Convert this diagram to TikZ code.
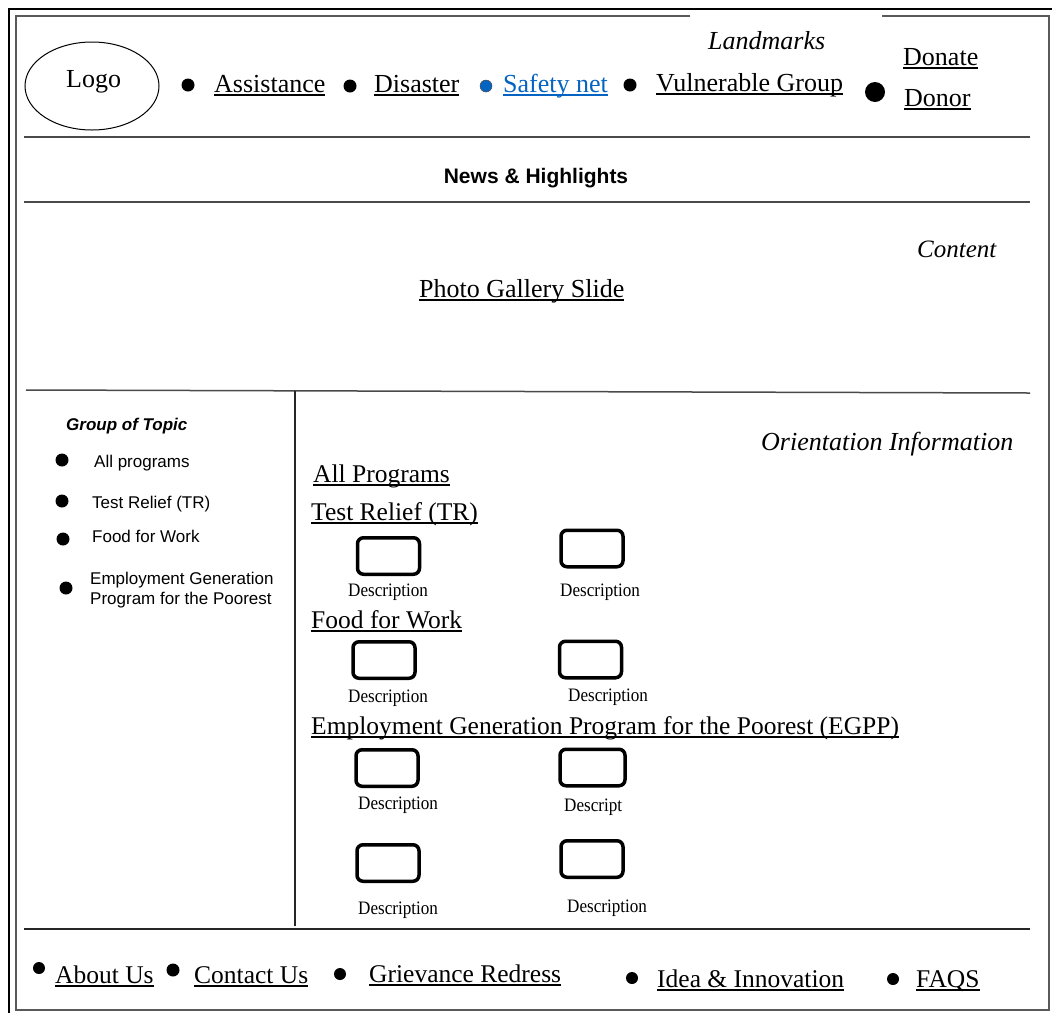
\documentclass[tikz,border=0pt]{standalone}
\usepackage{fontspec}
\setmainfont{Liberation Serif}
\setsansfont{Liberation Sans}
\usetikzlibrary{shapes.geometric}
\definecolor{linkblue}{HTML}{0563C1}
\definecolor{framegrey}{HTML}{5A5A5A}
\definecolor{rulegrey}{HTML}{4A4A4A}
\newsavebox\linkbox
% underlined link text: rule just below the baseline, in the current colour
\newcommand\linktext[1]{\sbox\linkbox{#1}\rlap{\rule[-3.5pt]{\wd\linkbox}{1.3pt}}\usebox\linkbox}
\tikzset{
  navlink/.style={anchor=base west, inner sep=0pt, font=\fontsize{26}{30}\selectfont},
  headlink/.style={anchor=base west, inner sep=0pt, font=\fontsize{25.5}{30}\selectfont},
  tag/.style={anchor=base west, inner sep=0pt, font=\itshape\fontsize{26}{30}\selectfont},
  sidetext/.style={anchor=base west, inner sep=0pt, font=\sffamily\fontsize{17}{20}\selectfont},
  desc/.style={anchor=base west, inner sep=0pt, font=\fontsize{19}{22}\selectfont, xscale=0.9},
  dot/.style={circle, fill=black, inner sep=0pt, minimum size=13pt},
  descbox/.style={draw=black, line width=3.5pt, rounded corners=6pt, inner sep=0pt,
                  minimum width=62pt, minimum height=36.5pt},
  sectionrule/.style={draw=rulegrey, line width=1.5pt},
}
\begin{document}
\begin{tikzpicture}[x=1pt, y=-1pt]
\useasboundingbox (0,0) rectangle (1052,1013);
\fill[white] (0,0) rectangle (1052,1013);

% page frames
\draw[line width=2pt] (9,1013) -- (9,9) -- (1052,9);
\draw[draw=framegrey, line width=1.6pt] (690,16) -- (16,16) -- (16,1010) -- (1049,1010) -- (1049,16) -- (882,16);

% header: logo and navigation
\node[draw, ellipse, line width=1pt, minimum width=134pt, minimum height=88pt] (logo) at (92,86) {};
\node[navlink] (logotext) at (66,87) {Logo};
\node[dot] (d1) at (188,85) {};
\node[navlink] (assist) at (214,92) {\linktext{Assistance}};
\node[dot] (d2) at (350,86) {};
\node[navlink] (disaster) at (374,92) {\linktext{Disaster}};
\node[dot, fill=linkblue, draw=black!70, line width=0.5pt, minimum size=12pt] (d3) at (486,86) {};
\node[navlink, text=linkblue] (safety) at (503,92) {\linktext{Safety net}};
\node[dot] (d4) at (630,85) {};
\node[navlink] (vulnerable) at (656,91) {\linktext{Vulnerable Group}};
\node[tag] (landmarks) at (708,49) {Landmarks};
\node[dot, minimum size=20pt] (d5) at (875,92) {};
\node[navlink] (donate) at (903,65) {\linktext{Donate}};
\node[navlink] (donor) at (904,106) {\linktext{Donor}};

% news strip and slide area
\path[sectionrule] (24,137) -- (1030,137);
\node[anchor=base, inner sep=0pt, font=\sffamily\bfseries\fontsize{21}{24}\selectfont] (news) at (536,183) {News \& Highlights};
\path[sectionrule] (24,202) -- (1030,202);
\node[tag, font=\itshape\fontsize{25}{30}\selectfont] (content) at (917,257) {Content};
\node[navlink] (gallery) at (419,297) {\linktext{Photo Gallery Slide}};
\path[sectionrule] (26,390) -- (1030,393);

% topic column
\path[sectionrule, draw=black!85, line width=1.2pt] (295,391) -- (295,926);
\node[sidetext, font=\sffamily\bfseries\itshape\fontsize{17}{20}\selectfont] (topics) at (66,430) {Group of Topic};
\node[dot] (s1) at (62,460) {};
\node[sidetext] (allprog) at (94,467) {All programs};
\node[dot] (s2) at (62,501) {};
\node[sidetext] (testrelief) at (92,508) {Test Relief (TR)};
\node[dot] (s3) at (63,539) {};
\node[sidetext] (food) at (92,542) {Food for Work};
\node[dot] (s4) at (66,588) {};
\node[sidetext] (egpp1) at (90,584) {Employment Generation};
\node[sidetext] (egpp2) at (90,604) {Program for the Poorest};

% orientation information
\node[tag] (orient) at (761,450) {Orientation Information};
\node[headlink] (hall) at (313,482) {\linktext{All Programs}};
\node[headlink] (htr) at (311,520) {\linktext{Test Relief (TR)}};
\node[descbox] (b1) at (388.5,556) {};
\node[descbox] (b2) at (592,548.5) {};
\node[desc] (t1) at (348,596) {Description};
\node[desc] (t2) at (560,596) {Description};
\node[headlink] (hfood) at (311,628) {\linktext{Food for Work}};
\node[descbox] (b3) at (384,660) {};
\node[descbox] (b4) at (590.5,659.5) {};
\node[desc] (t3) at (348,702) {Description};
\node[desc] (t4) at (568,701) {Description};
\node[headlink] (hegpp) at (311,734) {\linktext{Employment Generation Program for the Poorest (EGPP)}};
\node[descbox] (b5) at (387,768) {};
\node[descbox, minimum width=65pt] (b6) at (592.5,767.5) {};
\node[desc] (t5) at (358,809) {Description};
\node[desc] (t6) at (564,811) {Descript};
\node[descbox] (b7) at (388,863) {};
\node[descbox] (b8) at (592,859) {};
\node[desc] (t7) at (358,914) {Description};
\node[desc] (t8) at (567,912) {Description};

% footer links
\path[sectionrule, draw=black!85] (24,929) -- (1030,929);
\node[dot, minimum size=12pt] (f1) at (39,968) {};
\node[headlink] (about) at (55,983) {\linktext{About Us}};
\node[dot] (f2) at (173,970) {};
\node[headlink] (contact) at (194,983) {\linktext{Contact Us}};
\node[dot, minimum size=12pt] (f3) at (340,974) {};
\node[headlink] (grievance) at (369,982) {\linktext{Grievance Redress}};
\node[dot, minimum size=12pt] (f4) at (632,978) {};
\node[headlink] (idea) at (657,987) {\linktext{Idea \& Innovation}};
\node[dot, minimum size=12pt] (f5) at (893,979) {};
\node[headlink] (faqs) at (916,987) {\linktext{FAQS}};
\end{tikzpicture}
\end{document}
